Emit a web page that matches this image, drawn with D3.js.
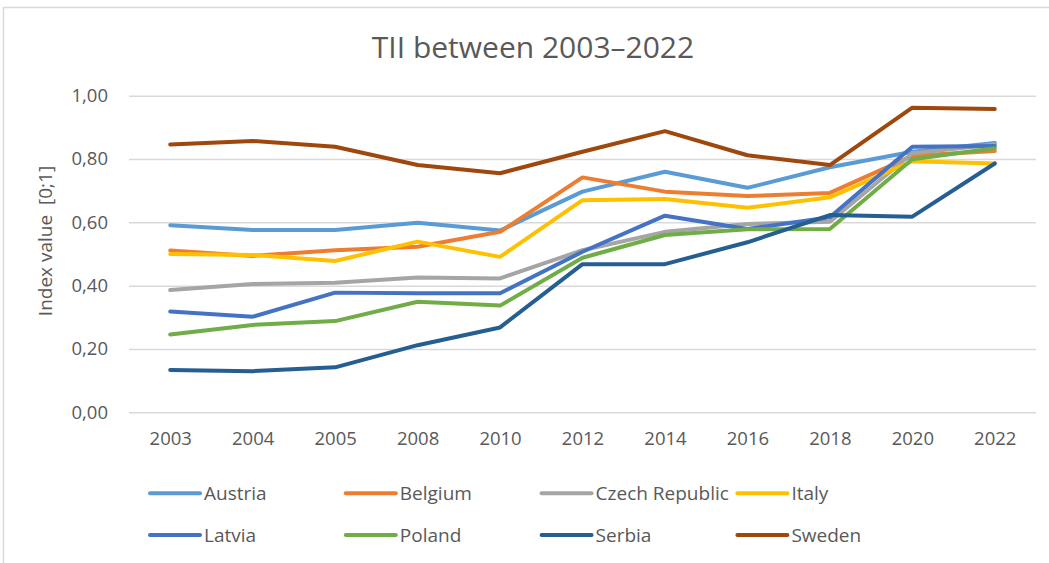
<!DOCTYPE html>
<html>
<head>
<meta charset="utf-8">
<script src="https://cdn.jsdelivr.net/npm/d3@7"></script>
<style>
  body{margin:0;background:#fff;}
  svg text{font-family:"Open Sans",Lato,sans-serif;fill:#595959;}
</style>
</head>
<body>
<div class="box"></div>
<script>
// values
const years=["2003","2004","2005","2008","2010","2012","2014","2016","2018","2020","2022"];
const austria=[0.591,0.576,0.576,0.599,0.574,0.697,0.760,0.709,0.774,0.823,0.851];
const belgium=[0.511,0.494,0.512,0.523,0.570,0.742,0.697,0.683,0.693,0.810,0.825];
const czech=[0.386,0.405,0.409,0.426,0.423,0.512,0.570,0.595,0.602,0.818,0.846];
const italy=[0.500,0.497,0.478,0.539,0.491,0.670,0.674,0.646,0.679,0.793,0.786];
const latvia=[0.318,0.302,0.378,0.376,0.376,0.507,0.621,0.579,0.616,0.839,0.841];
const poland=[0.246,0.276,0.288,0.349,0.337,0.488,0.560,0.578,0.579,0.799,0.834];
const serbia=[0.134,0.130,0.142,0.212,0.268,0.468,0.468,0.537,0.623,0.618,0.786];
const sweden=[0.846,0.857,0.839,0.781,0.755,0.823,0.888,0.812,0.781,0.962,0.958];
const countries=["Austria","Belgium","Czech Republic","Italy","Latvia","Poland","Serbia","Sweden"];
const yTicks=[0,0.2,0.4,0.6,0.8,1];

const series=[austria,belgium,czech,italy,latvia,poland,serbia,sweden]
    .map((vals,i)=>({nom:countries[i],vals:vals}));
const couleurs=["#5b9bd5","#ed7d31","#a5a5a5","#ffc000","#4472c4","#70ad47","#255e91","#9e480e"];

const dims={width:1049,height:563,left:129,right:1036,top:95.7,bottom:412.3};

const svg=d3.select('.box')
    .append('svg')
    .attr('width',dims.width)
    .attr('height',dims.height);

// chart frame
svg.append('rect')
    .attr('x',3.5).attr('y',7.5)
    .attr('width',dims.width+10).attr('height',dims.height+10)
    .attr('fill','none')
    .attr('stroke','#d9d9d9')
    .attr('stroke-width',1.5);

const x=d3.scalePoint()
    .domain(years)
    .range([dims.left,dims.right])
    .padding(0.5);
const y=d3.scaleLinear()
    .domain([0,1])
    .range([dims.bottom,dims.top]);
const couleur=d3.scaleOrdinal().domain(countries).range(couleurs);

// gridlines
const grid=svg.append('g')
    .attr('transform',`translate(${dims.left},0)`)
    .call(d3.axisLeft(y).tickValues(yTicks).tickSize(-(dims.right-dims.left)).tickFormat(''));
grid.select('.domain').remove();
grid.selectAll('line').attr('stroke','#d9d9d9').attr('stroke-width',1.5);

// y labels
const yAxis=svg.append('g')
    .attr('transform',`translate(${dims.left},0)`)
    .call(d3.axisLeft(y).tickValues(yTicks).tickSize(0).tickPadding(21)
        .tickFormat(d=>d3.format('.2f')(d).replace('.',',')));
yAxis.select('.domain').remove();
yAxis.selectAll('text').attr('font-size',18.5).attr('fill','#595959');

// x labels
const xAxis=svg.append('g')
    .attr('transform',`translate(0,${dims.bottom})`)
    .call(d3.axisBottom(x).tickSize(0).tickPadding(20));
xAxis.select('.domain').remove();
xAxis.selectAll('text').attr('font-size',18.5).attr('fill','#595959');

// lines
const ligne=d3.line()
    .x((d,i)=>x(years[i]))
    .y(d=>y(d));
svg.append('g').selectAll('path')
    .data(series)
    .enter()
    .append('path')
    .attr('d',d=>ligne(d.vals))
    .attr('fill','none')
    .attr('stroke',d=>couleur(d.nom))
    .attr('stroke-width',4)
    .attr('stroke-linejoin','round')
    .attr('stroke-linecap','round');

// title
svg.append('text')
    .attr('x',533).attr('y',58)
    .attr('text-anchor','middle')
    .attr('font-size',30)
    .text('TII between 2003\u20132022');

// y title
svg.append('text')
    .attr('transform','translate(52,241) rotate(-90)')
    .attr('text-anchor','middle')
    .attr('font-size',19)
    .style('white-space','pre')
    .text('Index value  [0;1]');

// legend
const legende=svg.append('g').selectAll('g')
    .data(series)
    .enter()
    .append('g')
    .attr('transform',(d,i)=>`translate(${150+(i%4)*195.8},${i<4?493.3:535})`);
legende.append('line')
    .attr('x1',0).attr('x2',50)
    .attr('stroke',d=>couleur(d.nom))
    .attr('stroke-width',4)
    .attr('stroke-linecap','round');
legende.append('text')
    .attr('x',54).attr('dy','0.35em')
    .attr('font-size',19)
    .text(d=>d.nom);
</script>
</body>
</html>
